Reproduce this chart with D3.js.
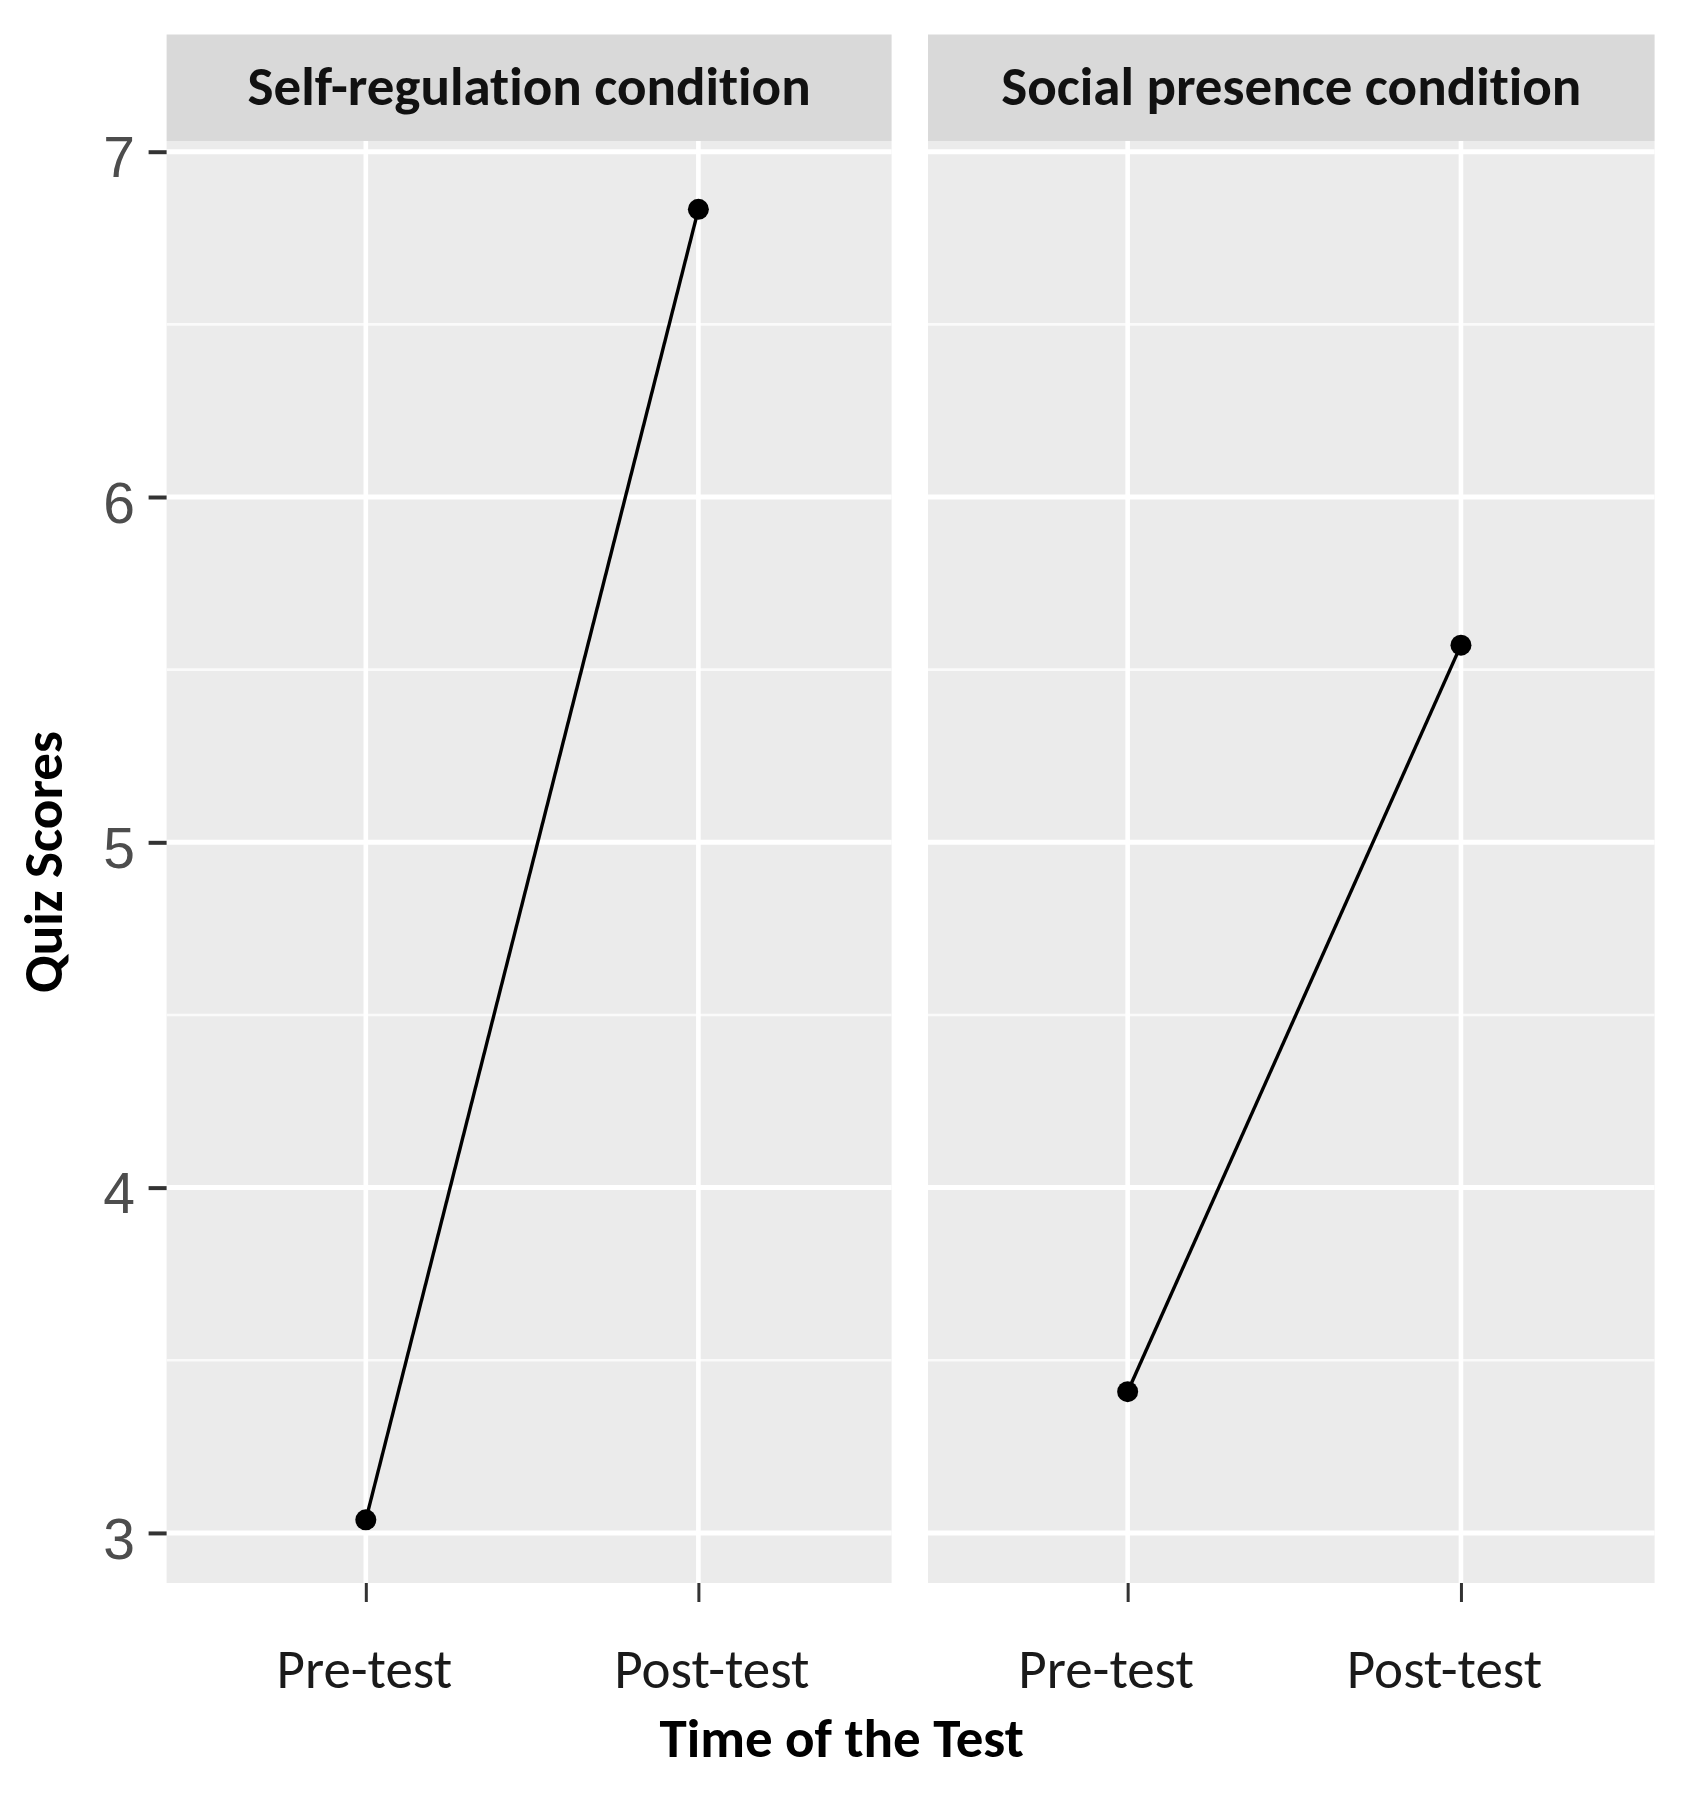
<!DOCTYPE html>
<html>
<head>
<meta charset="utf-8">
<script src="https://cdn.jsdelivr.net/npm/d3@7"></script>
<style>
  body { margin: 0; background: #fff; }
  svg { display: block; }
  text { font-variant-ligatures: none; }
</style>
</head>
<body>
<div id="chart"></div>
<script>
// chart data
const conditions = ["Self-regulation condition", "Social presence condition"];
const times = ["Pre-test", "Post-test"];
const selfRegulationScores = [3.038, 6.833];
const socialPresenceScores = [3.409, 5.571];
const yTicks = [3, 4, 5, 6, 7];
const yDomain = [2.855, 7.031];
const xTitle = "Time of the Test";
const yTitle = "Quiz Scores";

(function() {
  const width = 1699;
  const height = 1802;
  const labelFont = "Carlito, Calibri, Lato, sans-serif";
  const tickFont = "'Liberation Sans', Arial, sans-serif";

  // panel geometry
  const panelTop = 141;
  const panelBottom = 1583;
  const stripTop = 34.5;
  const panels = [
    { x0: 166.6, x1: 891.6, labelShift: [-2, 13] },
    { x0: 928, x1: 1654.6, labelShift: [-22, -17] }
  ];

  var series = [selfRegulationScores, socialPresenceScores];
  var facets = conditions.map(function(name, i) {
    return {
      name: name,
      x0: panels[i].x0,
      x1: panels[i].x1,
      shift: panels[i].labelShift,
      points: times.map(function(t, j) { return { time: t, score: series[i][j] }; })
    };
  });

  var y = d3.scaleLinear()
    .domain(yDomain)
    .range([panelBottom, panelTop]);

  var minorTicks = d3.range(0, 11, 1).map(function(d) { return d + 0.5; })
    .filter(function(d) { return d > y.domain()[0] && d < y.domain()[1]; });

  var svg = d3.select("#chart")
    .append("svg")
    .attr("width", width)
    .attr("height", height)
    .attr("viewBox", "0 0 " + width + " " + height);

  facets.forEach(function(f) {
    var x = d3.scalePoint()
      .domain(times)
      .range([f.x0 + 3, f.x1 + 3])
      .padding(0.59);

    var g = svg.append("g").attr("class", "panel");

    g.append("rect")
      .attr("x", f.x0)
      .attr("y", panelTop)
      .attr("width", f.x1 - f.x0)
      .attr("height", panelBottom - panelTop)
      .attr("fill", "#ebebeb");

    // minor grid
    g.selectAll(".minor")
      .data(minorTicks)
      .enter().append("line")
      .attr("x1", f.x0).attr("x2", f.x1)
      .attr("y1", function(d) { return y(d); })
      .attr("y2", function(d) { return y(d); })
      .attr("stroke", "#fafafa")
      .attr("stroke-width", 2.6);

    // major grid
    g.selectAll(".major")
      .data(yTicks)
      .enter().append("line")
      .attr("x1", f.x0).attr("x2", f.x1)
      .attr("y1", function(d) { return y(d); })
      .attr("y2", function(d) { return y(d); })
      .attr("stroke", "#fff")
      .attr("stroke-width", 5);

    g.selectAll(".vgrid")
      .data(times)
      .enter().append("line")
      .attr("x1", function(d) { return x(d); })
      .attr("x2", function(d) { return x(d); })
      .attr("y1", panelTop).attr("y2", panelBottom)
      .attr("stroke", "#fff")
      .attr("stroke-width", 4.6);

    // strip
    g.append("rect")
      .attr("x", f.x0)
      .attr("y", stripTop)
      .attr("width", f.x1 - f.x0)
      .attr("height", panelTop - stripTop)
      .attr("fill", "#d9d9d9");

    g.append("text")
      .attr("x", (f.x0 + f.x1) / 2)
      .attr("y", 105)
      .attr("text-anchor", "middle")
      .style("font-family", labelFont)
      .style("font-weight", "bold")
      .style("font-size", "55px")
      .attr("fill", "#111")
      .text(f.name);

    // line + points
    var line = d3.line()
      .x(function(d) { return x(d.time); })
      .y(function(d) { return y(d.score); });

    g.append("path")
      .datum(f.points)
      .attr("d", line)
      .attr("fill", "none")
      .attr("stroke", "#000")
      .attr("stroke-width", 3.4);

    g.selectAll(".pt")
      .data(f.points)
      .enter().append("circle")
      .attr("cx", function(d) { return x(d.time); })
      .attr("cy", function(d) { return y(d.score); })
      .attr("r", 10.5)
      .attr("fill", "#000");

    // x axis
    var xa = g.append("g")
      .attr("transform", "translate(0," + panelBottom + ")")
      .call(d3.axisBottom(x).tickSize(19).tickSizeOuter(0));
    xa.select(".domain").remove();
    xa.selectAll("line").attr("stroke", "#333").attr("stroke-width", 3);
    xa.selectAll("text")
      .attr("y", 105)
      .attr("dy", 0)
      .attr("dx", function(d, i) { return f.shift[i]; })
      .attr("fill", "#1a1a1a")
      .style("font-family", labelFont)
      .style("font-size", "55px");
  });

  // y axis on the left panel
  var ya = svg.append("g")
    .attr("transform", "translate(" + panels[0].x0 + ",0)")
    .call(d3.axisLeft(y).tickValues(yTicks).tickSize(18).tickPadding(13.6).tickFormat(d3.format("d")));
  ya.select(".domain").remove();
  ya.selectAll("line").attr("stroke", "#333").attr("stroke-width", 4);
  ya.selectAll("text")
    .attr("dy", "0.44em")
    .attr("fill", "#4d4d4d")
    .style("font-family", tickFont)
    .style("font-size", "57px");

  // axis titles
  svg.append("text")
    .attr("x", 841.6)
    .attr("y", 1757)
    .attr("text-anchor", "middle")
    .style("font-family", labelFont)
    .style("font-weight", "bold")
    .style("font-size", "55px")
    .attr("fill", "#000")
    .text(xTitle);

  svg.append("text")
    .attr("transform", "translate(62," + (panelTop + panelBottom) / 2 + ") rotate(-90)")
    .attr("text-anchor", "middle")
    .style("font-family", labelFont)
    .style("font-weight", "bold")
    .style("font-size", "55px")
    .attr("fill", "#000")
    .text(yTitle);
}());
</script>
</body>
</html>
